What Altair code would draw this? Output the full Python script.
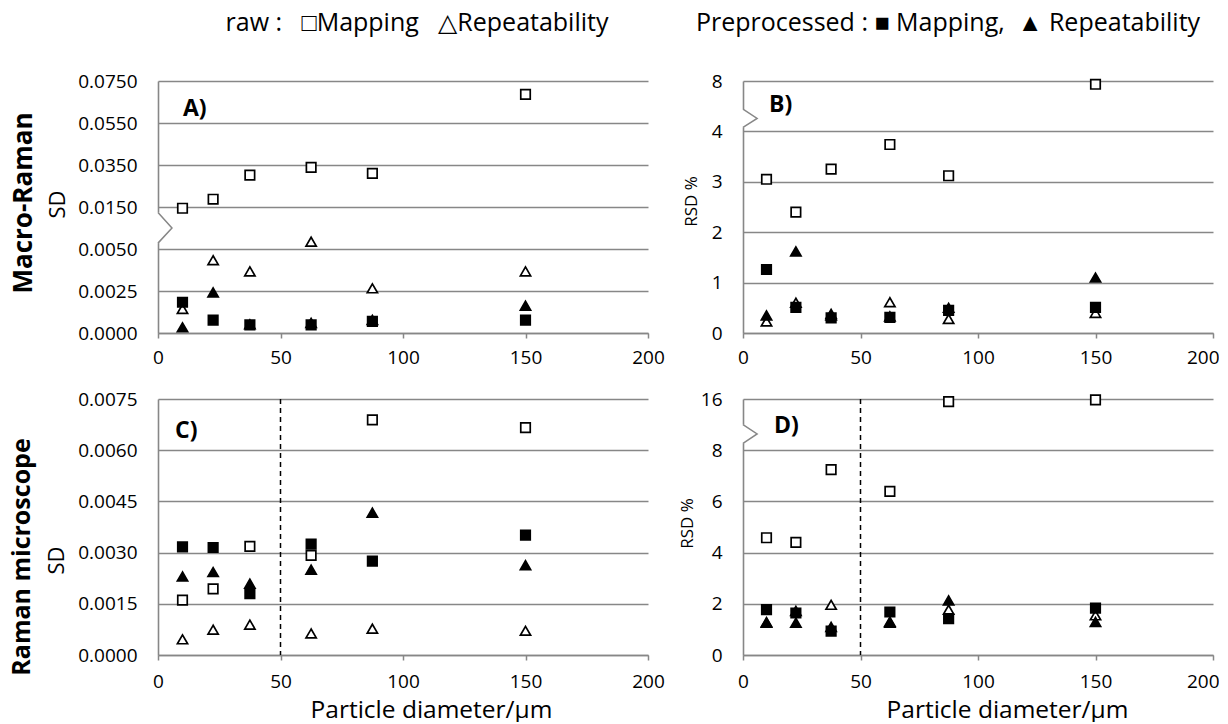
import altair as alt
import pandas as pd

# ---------------- data ----------------
DIAM = [10, 22.5, 37.5, 62.5, 87.5, 150]

A_RAW_MAP = [0.0147, 0.0187, 0.0302, 0.0339, 0.0310, 0.0686]
A_RAW_REP = [0.00143, 0.00433, 0.00367, 0.00675, 0.00266, 0.00367]
A_PRE_MAP = [0.00183, 0.00077, 0.00048, 0.00048, 0.00069, 0.00077]
A_PRE_REP = [0.00034, 0.00242, 0.00052, 0.00060, 0.00078, 0.00163]

B_RAW_MAP = [3.05, 2.40, 3.25, 3.74, 3.12, 7.74]
B_RAW_REP = [0.23, 0.60, 0.35, 0.61, 0.28, 0.40]
B_PRE_MAP = [1.26, 0.51, 0.30, 0.31, 0.45, 0.51]
B_PRE_REP = [0.35, 1.62, 0.38, 0.33, 0.50, 1.10]

C_RAW_MAP = [0.00161, 0.00194, 0.00318, 0.00292, 0.00689, 0.00666]
C_RAW_REP = [0.00046, 0.00074, 0.00089, 0.00063, 0.00077, 0.00071]
C_PRE_MAP = [0.00317, 0.00315, 0.00180, 0.00325, 0.00275, 0.00351]
C_PRE_REP = [0.00230, 0.00243, 0.00209, 0.00250, 0.00417, 0.00263]

D_RAW_MAP = [4.58, 4.40, 7.24, 6.39, 15.59, 15.85]
D_RAW_REP = [1.28, 1.72, 1.96, 1.30, 1.77, 1.55]
D_PRE_MAP = [1.77, 1.64, 0.93, 1.68, 1.42, 1.83]
D_PRE_REP = [1.26, 1.26, 1.10, 1.26, 2.13, 1.29]

X_TICKS = [0, 50, 100, 150, 200]
A_TICKS = [0, 0.0025, 0.005, 0.015, 0.035, 0.055, 0.075]
B_TICKS = [0, 1, 2, 3, 4, 8]
C_TICKS = [0, 0.0015, 0.003, 0.0045, 0.006, 0.0075]
D_TICKS = [0, 2, 4, 6, 8, 16]

LEGEND_RAW = "raw :\u00a0\u00a0\u00a0\u25a1Mapping\u00a0\u00a0\u00a0\u25b3Repeatability"
LEGEND_PRE = "Preprocessed : \u25a0 Mapping,\u00a0\u00a0\u25b2 Repeatability"
X_TITLE = "Particle diameter/\u00b5m"

FONT = "Open Sans"
GRID = "#878787"


def txt(t):
    return pd.DataFrame({"t": [t]})


def panel(w, h, ydomain, yrange, yticks, yfmt, ytitle, ytitle_size, ytitle_x, ytitle_y,
          data, label, label_x, label_y, xlp, xtitle=None, xtitle_x=0,
          brk=None, dashed=False, row_title=None, legend=None, right_edge=False):
    xaxis_kw = dict(values=X_TICKS, grid=False, ticks=True, tickSize=5, tickColor=GRID,
                    tickWidth=1.5, domainColor=GRID, domainWidth=1.6, labelFontSize=19,
                    labelFont=FONT, labelColor="black", labelPadding=xlp, labelFlush=False)
    if right_edge:
        # the last label sits at the page edge: keep it inside the window
        xaxis_kw.update(labelAlign=alt.ExprRef("datum.value == 200 ? 'right' : 'center'"),
                        labelOffset=alt.ExprRef("datum.value == 200 ? 6 : 0"))
    if xtitle:
        xaxis_kw.update(title=xtitle, titleFont=FONT, titleFontSize=24.5, titleFontWeight="normal",
                        titleColor="black", titleX=xtitle_x, titleY=62,
                        titleBaseline="alphabetic", titleAlign="center")
    else:
        xaxis_kw.update(title=None)
    xenc = alt.X("d:Q", scale=alt.Scale(domain=[0, 200], nice=False, zero=False),
                 axis=alt.Axis(**xaxis_kw))
    yenc = alt.Y("v:Q",
                 scale=alt.Scale(domain=ydomain, range=yrange, nice=False, zero=False),
                 axis=alt.Axis(values=yticks, format=yfmt, grid=True, gridColor=GRID,
                               gridWidth=1.7, ticks=False, tickSize=0, domainColor=GRID,
                               domainWidth=1.6, labelFontSize=19, labelFont=FONT,
                               labelColor="black", labelPadding=21, title=ytitle,
                               titleFont=FONT, titleFontSize=ytitle_size,
                               titleFontWeight="normal", titleColor="black",
                               titleAngle=270, titleX=ytitle_x, titleY=ytitle_y,
                               titleAlign="center", titleBaseline="middle"))

    layers = []
    if dashed:
        layers.append(alt.Chart(pd.DataFrame({"d": [50]})).mark_rule(
            color="black", strokeDash=[5, 4], strokeWidth=1.5).encode(x=xenc))
    if brk is not None:
        top, mid, bot, tip = brk
        gap = pd.DataFrame({"d": [0, 0], "v": [top, bot], "o": [0, 1]})
        chev = pd.DataFrame({"d": [0, tip, 0], "v": [top, mid, bot], "o": [0, 1, 2]})
        layers.append(alt.Chart(gap).mark_line(color="white", strokeWidth=5).encode(
            x=xenc, y=yenc, order="o:Q"))
        layers.append(alt.Chart(chev).mark_line(color=GRID, strokeWidth=1.5).encode(
            x=xenc, y=yenc, order="o:Q"))

    raw_map, raw_rep, pre_map, pre_rep = data
    styles = [(raw_map, "square", "white", 90), (raw_rep, "triangle-up", "white", 105),
              (pre_rep, "triangle-up", "black", 105), (pre_map, "square", "black", 90)]
    for vals, shape, fill, size in styles:
        df = pd.DataFrame({"d": DIAM, "v": vals})
        layers.append(alt.Chart(df).mark_point(
            shape=shape, filled=True, fill=fill, stroke="black", strokeWidth=1.7,
            size=size, opacity=1).encode(x=xenc, y=yenc))

    layers.append(alt.Chart(txt(label)).mark_text(
        font=FONT, fontSize=23, fontWeight="bold", align="left", baseline="middle",
        color="black").encode(text="t:N", x=alt.value(label_x), y=alt.value(label_y)))
    if row_title is not None:
        t, rx, ry, rs = row_title
        layers.append(alt.Chart(txt(t)).mark_text(
            font=FONT, fontSize=rs, fontWeight="bold", angle=270, align="center",
            baseline="middle", color="black").encode(text="t:N", x=alt.value(rx), y=alt.value(ry)))
    if legend is not None:
        t, lx = legend
        layers.append(alt.Chart(txt(t)).mark_text(
            font=FONT, fontSize=25, align="center", baseline="middle",
            color="black").encode(text="t:N", x=alt.value(lx), y=alt.value(-58)))

    return alt.layer(*layers).properties(width=w, height=h)


HT, HB = 252, 256

pA = panel(490, HT, [0, 0.005, 0.015, 0.075], [HT, HT * 4 / 6, HT * 3 / 6, 0], A_TICKS, ".4f",
           "SD", 22, -101, 123, (A_RAW_MAP, A_RAW_REP, A_PRE_MAP, A_PRE_REP),
           "A)", 25, 28, 10, brk=(0.0137, 0.0100, 0.0064, 5.7),
           row_title=("Macro-Raman", -134, 122, 26), legend=(LEGEND_RAW, 259))

pB = panel(470, HT, [0, 4, 8], [HT, HT / 5, 0], B_TICKS, "d",
           "RSD %", 17, -52, 120, (B_RAW_MAP, B_RAW_REP, B_PRE_MAP, B_PRE_REP),
           "B)", 26, 24, 10, brk=(5.76, 5.03, 4.32, 6.0), legend=(LEGEND_PRE, 205),
           right_edge=True)

pC = panel(490, HB, [0, 0.0075], [HB, 0], C_TICKS, ".4f",
           "SD", 22, -102, 161, (C_RAW_MAP, C_RAW_REP, C_PRE_MAP, C_PRE_REP),
           "C)", 17, 32, 12, xtitle=X_TITLE, xtitle_x=273, dashed=True,
           row_title=("Raman microscope", -136, 158, 25))

pD = panel(470, HB, [0, 8, 16], [HB, HB / 5, 0], D_TICKS, "d",
           "RSD %", 17, -56, 124, (D_RAW_MAP, D_RAW_REP, D_PRE_MAP, D_PRE_REP),
           "D)", 31, 27, 12, xtitle=X_TITLE, xtitle_x=264, dashed=True,
           brk=(12.0, 10.55, 9.08, 6.0), right_edge=True)

chart = alt.concat(pA, pB, pC, pD, columns=2, spacing={"row": 66, "column": 95},
                   bounds="flush").properties(
    padding={"left": 2, "top": 3, "right": 0, "bottom": 0},
    background="white",
).configure_view(stroke=None)

chart.save("out.html", embed_options={"renderer": "svg", "actions": False})
